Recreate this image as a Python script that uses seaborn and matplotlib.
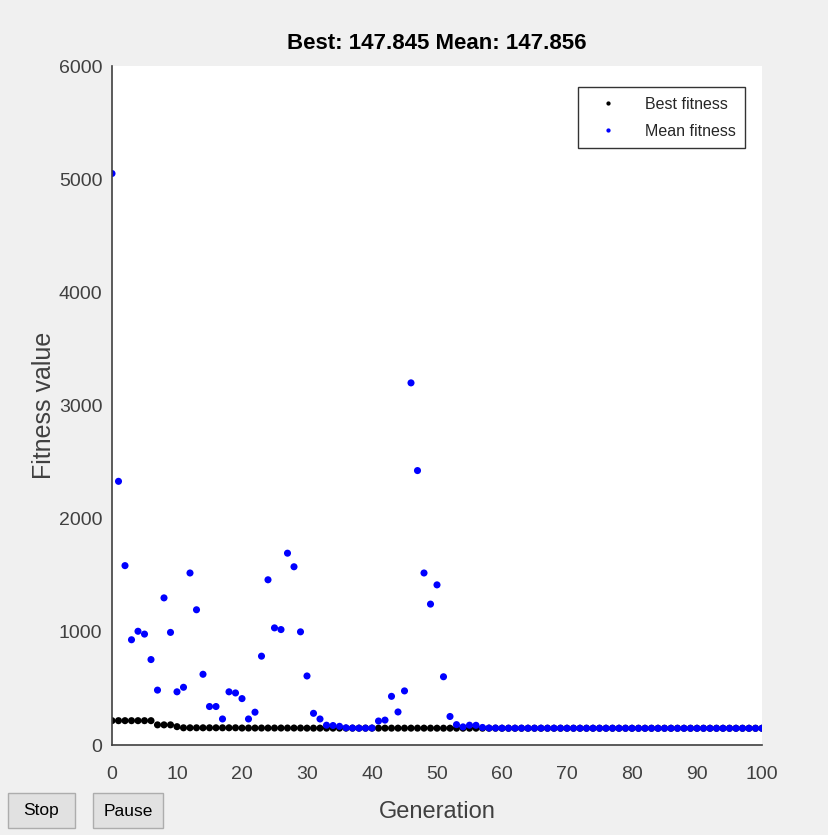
import pandas as pd
import matplotlib.pyplot as plt
import seaborn as sns
from matplotlib.patches import Rectangle

# ---------------- data ----------------
generation = list(range(0, 101))

best_fitness = [
    215, 215, 215, 215, 215, 215, 215, 178, 178, 178,
    162, 152, 152, 152, 152, 152, 152, 152, 152, 152,
    150, 150, 150, 150, 150, 150, 150, 150, 150, 150,
    149, 149, 149, 149, 149, 149, 149, 149, 149, 149,
    149, 149, 149, 149, 149, 149, 149, 149, 149, 149,
    148.5, 148.5, 148.5, 148.5, 148.5, 148.5, 148.5, 148.5, 148.5, 148.5,
    148, 148, 148, 148, 148, 148, 148, 148, 148, 148,
    148, 148, 148, 148, 148, 148, 148, 148, 148, 148,
    147.9, 147.9, 147.9, 147.9, 147.9, 147.9, 147.9, 147.9, 147.9, 147.9,
    147.85, 147.85, 147.85, 147.85, 147.85, 147.85, 147.85, 147.85, 147.85, 147.85,
    147.845,
]

mean_fitness = [
    5050, 2330, 1585, 930, 1005, 980, 755, 485, 1300, 995,
    470, 510, 1520, 1195, 625, 340, 340, 230, 470, 460,
    410, 230, 290, 785, 1460, 1035, 1020, 1695, 1575, 1000,
    610, 280, 230, 175, 172, 165, 152, 150, 149, 149,
    150, 212, 220, 430, 292, 478, 3200, 2425, 1520, 1245,
    1415, 603, 252, 180, 160, 175, 174, 155, 150, 150,
    149, 149, 149, 149, 149, 149, 149, 149, 149, 149,
    148.5, 148.5, 148.5, 148.5, 148.5, 148.5, 148.5, 148.5, 148.5, 148.5,
    148, 148, 148, 148, 148, 148, 148, 148, 148, 148,
    147.9, 147.9, 147.9, 147.9, 147.9, 147.9, 147.9, 147.9, 147.9, 147.9,
    147.856,
]

series_names = ['Best fitness', 'Mean fitness']
x_ticks = [0, 10, 20, 30, 40, 50, 60, 70, 80, 90, 100]
y_ticks = [0, 1000, 2000, 3000, 4000, 5000, 6000]

df = pd.DataFrame({
    'Generation': generation * 2,
    'Fitness value': best_fitness + mean_fitness,
    'series': [series_names[0]] * len(generation) + [series_names[1]] * len(generation),
})

# ---------------- style ----------------
sns.set_style('white')
plt.rcParams['font.family'] = ['Liberation Sans', 'DejaVu Sans']
bg = '#f0f0f0'
axis_col = '#404040'

fig = plt.figure(figsize=(8.29, 8.35), dpi=100, facecolor=bg)
ax = fig.add_axes([112 / 829, 1 - 745 / 835, 650 / 829, 679 / 835])
ax.set_facecolor('white')

sns.scatterplot(data=df, x='Generation', y='Fitness value', hue='series',
                palette={'Best fitness': 'black', 'Mean fitness': 'blue'},
                s=26, linewidth=0, edgecolor='none', ax=ax)

ax.set_xlim(0, 100)
ax.set_ylim(0, 6000)
ax.set_xticks(x_ticks)
ax.set_yticks(y_ticks)
ax.tick_params(direction='in', length=5, width=1, colors=axis_col,
               labelsize=14, labelcolor=axis_col)
ax.tick_params(axis='x', pad=15)
ax.tick_params(axis='y', pad=7)
for side in ['top', 'right']:
    ax.spines[side].set_visible(False)
for side in ['left', 'bottom']:
    ax.spines[side].set_color(axis_col)
    ax.spines[side].set_linewidth(1.2)

ax.set_xlabel('Generation', fontsize=17, color=axis_col, labelpad=13)
ax.set_ylabel('Fitness value', fontsize=18, color=axis_col, labelpad=2)
ax.set_title('Best: 147.845 Mean: 147.856', fontsize=16, fontweight='bold',
             color='black', pad=12)

leg = ax.legend(loc='upper right', bbox_to_anchor=(0.974, 0.969), borderaxespad=0,
                frameon=True, fancybox=False, fontsize=11.5, markerscale=0.6,
                handlelength=2.6, handletextpad=1.0, borderpad=0.6,
                labelspacing=0.75)
leg.get_frame().set_edgecolor('black')
leg.get_frame().set_linewidth(1)

# ---------------- buttons at the bottom ----------------
for (x0, w, label) in [(8, 67, 'Stop'), (93, 70, 'Pause')]:
    fig.patches.append(Rectangle((x0 / 829, 1 - 828 / 835), w / 829, 35 / 835,
                                 transform=fig.transFigure, facecolor='#e1e1e1',
                                 edgecolor='#adadad', linewidth=1))
    fig.text((x0 + w / 2) / 829, 1 - 811 / 835, label, ha='center', va='center',
             fontsize=12.5, color='black')

fig.savefig('out.png', dpi=100, facecolor=bg)
